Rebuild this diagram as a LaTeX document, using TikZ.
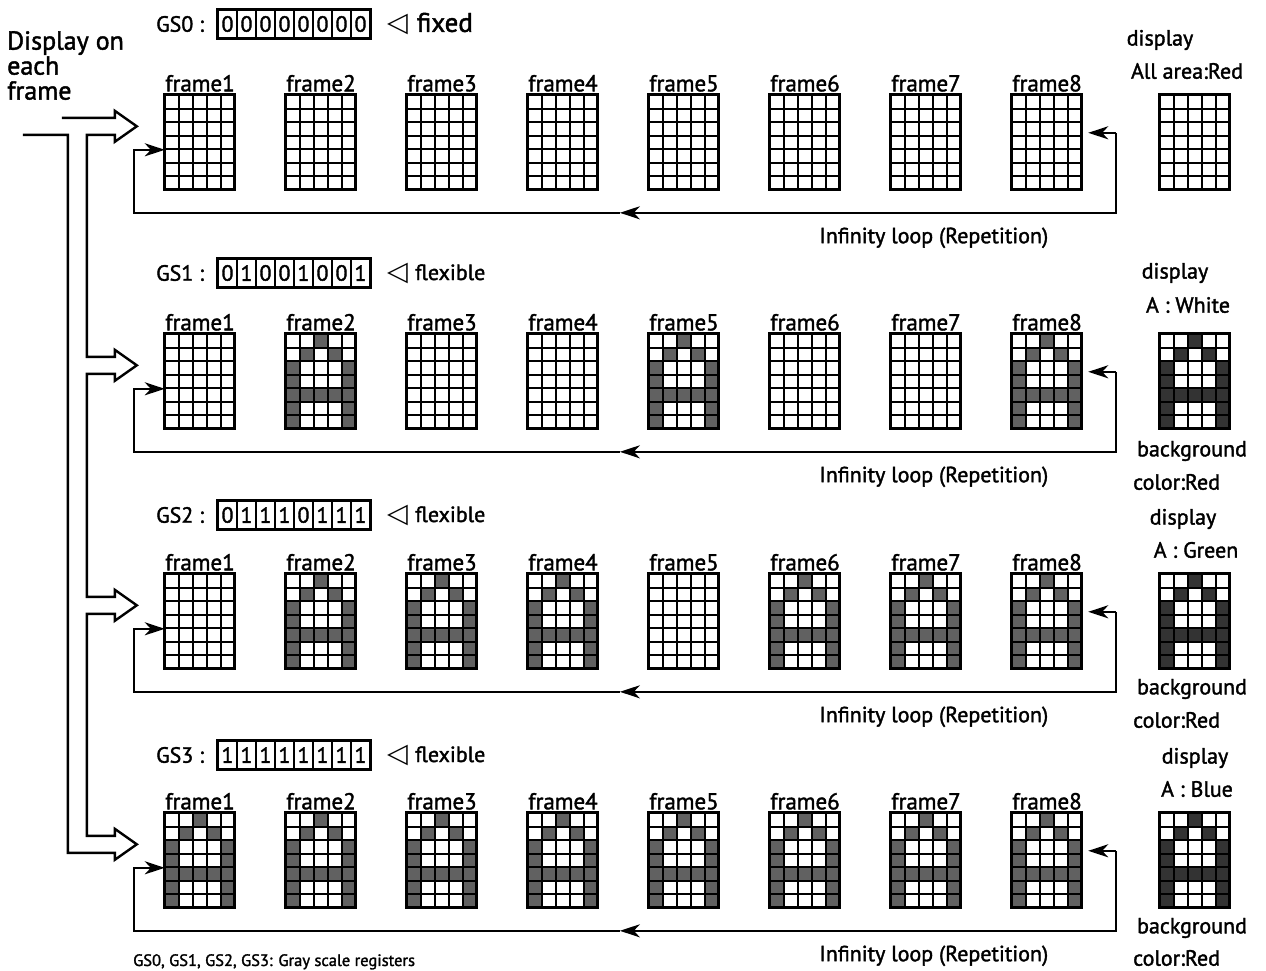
\documentclass[tikz,border=0pt]{standalone}
\usepackage{fontspec}
\setmainfont{PT Sans}[UprightFeatures={FakeBold=1.6}]
\newfontfamily\symfont{DejaVu Sans}
\usetikzlibrary{arrows.meta, positioning, calc}

% cells of the letter A (column/row) in a 5x7 dot grid
\newcommand{\lettercells}{2/0,1/1,3/1,0/2,4/2,0/3,4/3,0/4,1/4,2/4,3/4,4/4,0/5,4/5,0/6,4/6}

% one 5x7 grid on node #1, letter shaded with style #2 when #3 = 1
\newcommand{\dotgrid}[3]{%
  \begin{scope}[shift={(#1.north west)}]
    \ifnum#3=1\relax
      \foreach \c/\rr in \lettercells
        \fill[#2] ({\c*14}, {round(\rr*95/7)}) rectangle ({\c*14+14}, {round((\rr+1)*95/7)});
    \fi
    \foreach \c in {1,...,4}
      \draw[gridline] ({\c*14}, 0) -- ({\c*14}, 95);
    \foreach \rr in {1,...,6}
      \draw[gridline] (0, {round(\rr*95/7)}) -- (70, {round(\rr*95/7)});
    \draw[gridframe] (0,0) rectangle (70,95);
  \end{scope}}

\begin{document}
\begin{tikzpicture}[
    x=1pt, y=-1pt,
    every node/.style={font=\fontsize{22}{24}\selectfont, inner sep=0pt},
    cell/.style={minimum width=70pt, minimum height=95pt},
    gridline/.style={line width=2pt},
    gridframe/.style={line width=3pt},
    lit/.style={fill=black!62},
    litdisp/.style={fill=black!80},
    loopline/.style={line width=2.4pt, -{Stealth[length=20pt, width=13pt, inset=6pt]}},
    bus/.style={line width=2.4pt, line join=miter},
    regbit/.style={draw, line width=1.6pt, minimum width=19pt, minimum height=28pt},
    flabel/.style={font=\fontsize{23}{25}\selectfont},
]
\useasboundingbox (0,0) rectangle (1266,970);

% ============================================================
% four register rows
% ============================================================
\foreach \r/\gy/\regy/\regmode/\modesize/\bits in {
    0/95/24/fixed/27/{0,0,0,0,0,0,0,0},
    1/334/273/flexible/22/{0,1,0,0,1,0,0,1},
    2/574/515/flexible/22/{0,1,1,1,0,1,1,1},
    3/813/755/flexible/22/{1,1,1,1,1,1,1,1}}
{
    % frames and register bits
    \foreach \b [count=\k] in \bits {
        \node[cell] (f\r\k) at ({200+121*(\k-1)}, \gy+47.5) {};
        \dotgrid{f\r\k}{lit}{\b}
        \node[flabel, above=3pt of f\r\k] {frame\k};
        \node[regbit] (b\r\k) at ({227.5+19*(\k-1)}, \regy) {\b};
    }
    \draw[line width=2.4pt] (b\r1.north west) rectangle (b\r8.south east);
    \node[left=13pt of b\r1] (gs\r) {GS\r\ :};
    \node[right=16pt of b\r8, font=\fontsize{\modesize}{24}\selectfont] (mode\r)
        {{\symfont\fontsize{27}{24}\selectfont ◁}\,\,\regmode};

    % infinity loop
    \coordinate (rc\r) at ($(f\r8.north east)+(34,38)$);
    \coordinate (rb\r) at ($(f\r8.north east)+(34,118)$);
    \coordinate (mid\r) at ($(f\r1.north west)+(455,118)$);
    \coordinate (lb\r) at ($(f\r1.north west)+(-31,118)$);
    \coordinate (lc\r) at ($(f\r1.north west)+(-31,55)$);
    \draw[loopline] (rc\r) -- ($(f\r8.north east)+(6,38)$);
    \draw[loopline] (rc\r) -- (rb\r) -- (mid\r);
    \draw[loopline] (mid\r) -- (lb\r) -- (lc\r) -- (f\r1.west |- lc\r);
    \node (inf\r) at ($(f\r1.north west)+(769,143)$) {Infinity loop (Repetition)};

    % tip of the wide arrow into frame1
    \coordinate (tip\r) at ($(f\r1.north west)+(-28,31.5)$);
}

% display result grids
\foreach \r/\gy/\lit in {0/95/0, 1/334/1, 2/574/1, 3/813/1} {
    \node[cell] (disp\r) at (1195, \gy+47.5) {};
    \dotgrid{disp\r}{litdisp}{\lit}
}

% ============================================================
% wide feed arrow on the left
% ============================================================
\node[align=left, anchor=north west, font=\fontsize{26}{25}\selectfont] (title) at (7,31) {Display on\\each\\frame};
\draw[bus] ($(tip0)+(-75,-8.5)$)
    \foreach \r/\n in {0/1,1/2,2/3} {
        -- ($(tip\r)+(-22,-8.5)$) -- ($(tip\r)+(-22,-15.5)$) -- (tip\r)
        -- ($(tip\r)+(-22,15.5)$) -- ($(tip\r)+(-22,8.5)$) -- ($(tip\r)+(-50,8.5)$)
        -- ($(tip\n)+(-50,-8.5)$)
    }
    -- ($(tip3)+(-22,-8.5)$) -- ($(tip3)+(-22,-15.5)$) -- (tip3)
    -- ($(tip3)+(-22,15.5)$) -- ($(tip3)+(-22,8.5)$) -- ($(tip3)+(-69,8.5)$)
    -- ($(tip0)+(-69,8.5)$) -- ($(tip0)+(-114,8.5)$);

% ============================================================
% texts on the right
% ============================================================
\node (dt0) at (1160,40) {display};
\node (da0) at (1187,71) {All area:Red};
\node (dt1) at (1175,273) {display};
\node (da1) at (1188,305) {A : White};
\node (bg1) at (1192,451) {background};
\node[anchor=west] (bc1) at (1133,482) {color:Red};
\node (dt2) at (1183,519) {display};
\node (da2) at (1196,550) {A : Green};
\node (bg2) at (1192,689) {background};
\node[anchor=west] (bc2) at (1133,720) {color:Red};
\node (dt3) at (1195,758) {display};
\node (da3) at (1197,789) {A : Blue};
\node (bg3) at (1192,928) {background};
\node[anchor=west] (bc3) at (1133,958) {color:Red};

\node[anchor=north west, font=\fontsize{16.5}{18}\selectfont] (note) at (133,954) {GS0, GS1, GS2, GS3: Gray scale registers};

\end{tikzpicture}
\end{document}
